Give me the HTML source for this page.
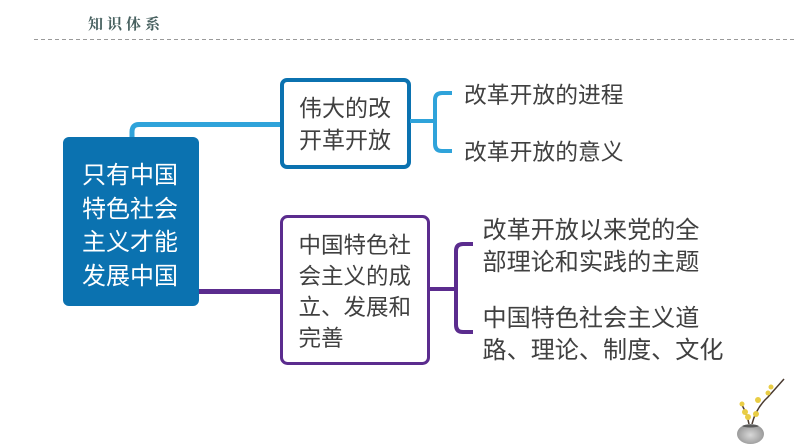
<!DOCTYPE html>
<html><head><meta charset="utf-8"><style>
html,body{margin:0;padding:0;background:#fff}
#c{position:relative;width:794px;height:447px;overflow:hidden;background:#fff;font-family:"Liberation Sans","Noto Sans CJK SC",sans-serif}
.t{position:absolute;white-space:nowrap;color:#404040;line-height:1}
svg{position:absolute;left:0;top:0}
</style></head><body><div id="c">
<svg width="794" height="447" viewBox="0 0 794 447">
<defs><radialGradient id="v" cx="50%" cy="55%" r="60%"><stop offset="0" stop-color="#d8d8d8"/><stop offset="1" stop-color="#8f8f8f"/></radialGradient></defs>
<line x1="34" y1="39.500" x2="794" y2="39.500" stroke="#9a9a9a" stroke-width="1" stroke-dasharray="4 3"/>
<path d="M132 138V132Q132 124.500 139 124.500H282" fill="none" stroke="#2fa3da" stroke-width="5"/>
<path d="M199 291.500H282" fill="none" stroke="#5b2c8e" stroke-width="5"/>
<rect x="63" y="137" width="136" height="169" rx="6" fill="#0b72b0"/>
<rect x="282" y="80" width="127" height="87" rx="5" fill="#fff" stroke="#0b72b0" stroke-width="4"/>
<rect x="281.500" y="216.500" width="147" height="147" rx="6" fill="#fff" stroke="#5b2c8e" stroke-width="3"/>
<path d="M410 121H435M452 93H442Q435 93 435 100V144Q435 151 442 151H452" fill="none" stroke="#2fa3da" stroke-width="4"/>
<path d="M430 289H456M473 244H463Q456 244 456 251V325Q456 332 463 332H473" fill="none" stroke="#5b2c8e" stroke-width="4"/>
<g>
<path d="M752 424Q756 408 768 397L784 379" fill="none" stroke="#4a3a30" stroke-width="1.500"/>
<path d="M749 424Q747 414 742 405" fill="none" stroke="#4a3a30" stroke-width="1.500"/>
<ellipse cx="750.500" cy="434" rx="13.500" ry="10" fill="url(#v)"/>
<ellipse cx="750.500" cy="426" rx="8" ry="1.500" fill="#5a5a5a"/>
<g fill="#e9cd45">
<circle cx="742" cy="404" r="2.500"/><circle cx="745" cy="412" r="3"/><circle cx="748" cy="417" r="3"/>
<circle cx="756" cy="414" r="3"/><circle cx="758" cy="400" r="3"/><circle cx="768" cy="393" r="2.500"/><circle cx="771" cy="387" r="2.500"/>
</g>
</g>
</svg>
<div class="t" style="left:88px;top:18px;font-size:15px;letter-spacing:4px;color:#47605f;font-family:'Liberation Serif','Noto Serif CJK SC',serif;font-weight:bold">知识体系</div>
<div class="t" style="left:82px;top:159px;font-size:24px;line-height:33.500px;color:#fff">只有中国<br>特色社会<br>主义才能<br>发展中国</div>
<div class="t" style="left:299px;top:92px;font-size:23px;line-height:32px">伟大的改<br>开革开放</div>
<div class="t" style="left:298.500px;top:230px;font-size:22.500px;line-height:31px">中国特色社<br>会主义的成<br>立、发展和<br>完善</div>
<div class="t" style="left:464px;top:84px;font-size:22.800px">改革开放的进程</div>
<div class="t" style="left:464px;top:141px;font-size:22.800px">改革开放的意义</div>
<div class="t" style="left:482.500px;top:215px;font-size:24.100px;line-height:32px">改革开放以来党的全<br>部理论和实践的主题</div>
<div class="t" style="left:482.500px;top:303px;font-size:24.100px;line-height:32px">中国特色社会主义道<br>路、理论、制度、文化</div>
</div></body></html>
